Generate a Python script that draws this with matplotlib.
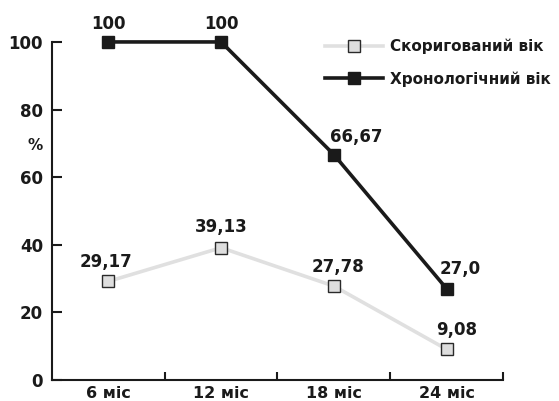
import matplotlib
matplotlib.use('Agg')
import matplotlib.pyplot as plt
import numpy as np

plt.rcParams['font.family'] = ['DejaVu Sans']
plt.rcParams['font.weight'] = 'bold'

categories = ['6 міс', '12 міс', '18 міс', '24 міс']
corrected = [29.17, 39.13, 27.78, 9.08]
chrono = [100, 100, 66.67, 27.0]
corrected_lbl = ['29,17', '39,13', '27,78', '9,08']
chrono_lbl = ['100', '100', '66,67', '27,0']
yticks = [0, 20, 40, 60, 80, 100]

ink = '#1a1a1a'
fig = plt.figure(figsize=(5.59, 4.01), dpi=100)
ax = fig.add_axes([0.093, 0.0524, 0.8068, 0.843])

x = np.arange(len(categories)) + 0.5
ax.plot(x, corrected, '-s', color='#e0e0e0', lw=2.6, ms=8.6, mfc='#dedede',
        mec='#2a2a2a', mew=1.0, label='Скоригований вік', zorder=3, clip_on=False)
ax.plot(x, chrono, '-s', color=ink, lw=2.6, ms=9, mfc=ink,
        mec=ink, label='Хронологічний вік', zorder=4, clip_on=False)

# value label offsets in points
c_off = [(-1.5, 13.7), (0, 15), (3, 13.7), (7, 13.7)]
h_off = [(0, 13), (0, 13), (16, 13), (10, 14.5)]
for xi, v, t, o in zip(x, corrected, corrected_lbl, c_off):
    ax.annotate(t, (xi, v), xytext=o, textcoords='offset points',
                ha='center', va='center', fontsize=12, fontweight='bold', color=ink)
for xi, v, t, o in zip(x, chrono, chrono_lbl, h_off):
    ax.annotate(t, (xi, v), xytext=o, textcoords='offset points',
                ha='center', va='center', fontsize=12, fontweight='bold', color=ink)

ax.set_xlim(0, 4)
ax.set_ylim(0, 100)
ax.set_yticks(yticks)
ax.set_yticklabels([str(v) for v in yticks], fontsize=12, fontweight='bold', color=ink)
ax.set_xticks([1, 2, 3, 4])
ax.set_xticklabels([])
ax.set_xticks(x, minor=True)
ax.set_xticklabels(categories, minor=True, fontsize=11.5, fontweight='bold', color=ink)
ax.tick_params(axis='x', which='minor', length=0, pad=4)
ax.tick_params(axis='x', which='major', direction='in', length=6, width=1.5, color=ink)
ax.tick_params(axis='y', direction='in', length=7.5, width=1.5, color=ink, pad=6.5)

for s in ['top', 'right']:
    ax.spines[s].set_visible(False)
for s in ['left', 'bottom']:
    ax.spines[s].set_linewidth(1.5)
    ax.spines[s].set_color(ink)

ax.text(-0.0377, 69.5, '%', transform=ax.get_yaxis_transform(), ha='center', va='center',
        fontsize=11, fontweight='bold', color=ink)

leg = ax.legend(loc='upper left', bbox_to_anchor=(325 / 559, 1 - 39 / 401),
                bbox_transform=fig.transFigure, frameon=False,
                borderpad=0, borderaxespad=0,
                handlelength=3.8, handletextpad=0.45, labelspacing=1.1,
                prop={'weight': 'bold', 'size': 11})
for t in leg.get_texts():
    t.set_color(ink)

fig.savefig('out.png', dpi=100)
